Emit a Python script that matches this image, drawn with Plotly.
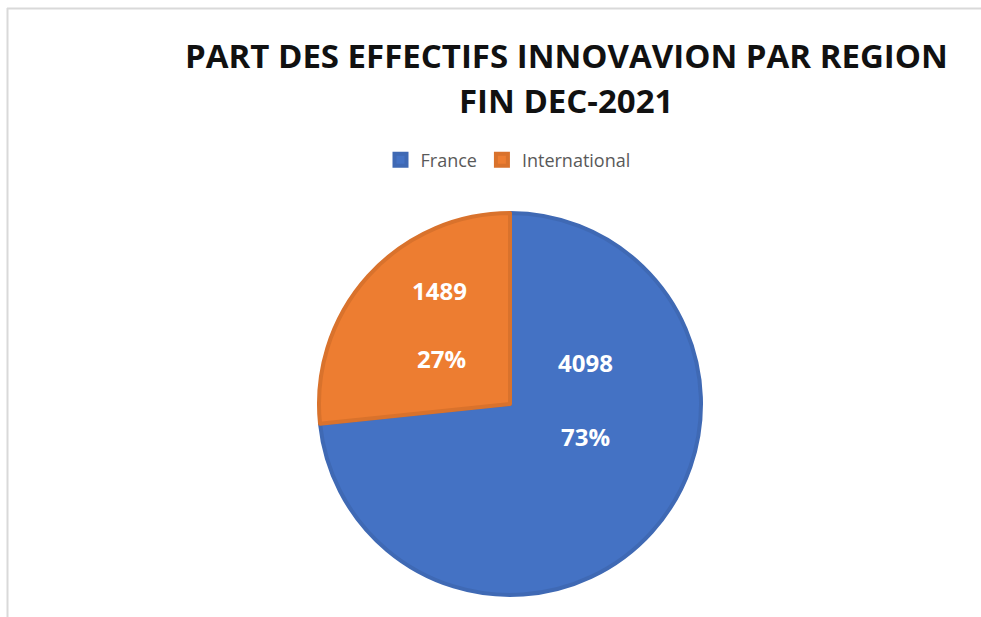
import plotly.graph_objects as go

# Headcount by region, end of December 2021
regions = ["France", "International"]
headcount = [4098, 1489]
colors = ["#4472C4", "#ED7D31"]
edge_colors = ["#3F69B4", "#D9722C"]

W, H = 981, 617
total = sum(headcount)
shares = [v / total for v in headcount]

fig = go.Figure(
    go.Pie(
        labels=regions,
        values=headcount,
        sort=False,
        direction="clockwise",
        rotation=0,
        marker=dict(colors=colors, line=dict(color=edge_colors, width=4)),
        textinfo="none",
        hoverinfo="label+value+percent",
        domain=dict(x=[319 / W, 701 / W], y=[1 - 595 / H, 1 - 213 / H]),
        showlegend=True,
    )
)

# Data labels (value above, percentage below) placed inside each slice
label_pos = {
    "France": [(585, 362), (585, 436)],
    "International": [(439, 290), (441, 358)],
}
label_font = dict(family="Open Sans", size=24, color="white")
annotations = []
for name, v, s in zip(regions, headcount, shares):
    (x1, y1), (x2, y2) = label_pos[name]
    annotations.append(dict(x=x1 / W, y=1 - y1 / H, xref="paper", yref="paper",
                            xanchor="center", yanchor="middle",
                            text=f"<b>{v}</b>", showarrow=False, font=label_font))
    annotations.append(dict(x=x2 / W, y=1 - y2 / H, xref="paper", yref="paper",
                            xanchor="center", yanchor="middle",
                            text=f"<b>{round(s * 100)}%</b>", showarrow=False, font=label_font))

# Title lines
title_font = dict(family="Open Sans", size=33, color="#111111")
annotations.append(dict(x=566 / W, y=1 - 55 / H, xref="paper", yref="paper",
                        xanchor="center", yanchor="middle",
                        text="<b>PART DES EFFECTIFS INNOVAVION PAR REGION</b>",
                        showarrow=False, font=title_font))
annotations.append(dict(x=566 / W, y=1 - 100 / H, xref="paper", yref="paper",
                        xanchor="center", yanchor="middle",
                        text="<b>FIN DEC-2021</b>", showarrow=False, font=title_font))

fig.update_layout(
    width=W,
    height=H,
    margin=dict(l=0, r=0, t=0, b=0),
    paper_bgcolor="white",
    plot_bgcolor="white",
    annotations=annotations,
    legend=dict(
        orientation="h",
        x=508 / W,
        xanchor="center",
        y=1 - 160 / H,
        yanchor="middle",
        font=dict(family="Open Sans", size=18, color="#595959"),
        itemwidth=30,
        traceorder="normal",
    ),
    shapes=[
        dict(type="line", xref="paper", yref="paper",
             x0=7 / W, x1=1, y0=1 - 8.5 / H, y1=1 - 8.5 / H,
             line=dict(color="#D9D9D9", width=2)),
        dict(type="line", xref="paper", yref="paper",
             x0=7.5 / W, x1=7.5 / W, y0=1 - 8 / H, y1=0,
             line=dict(color="#D9D9D9", width=2)),
    ],
)

fig.write_html("out.html")
